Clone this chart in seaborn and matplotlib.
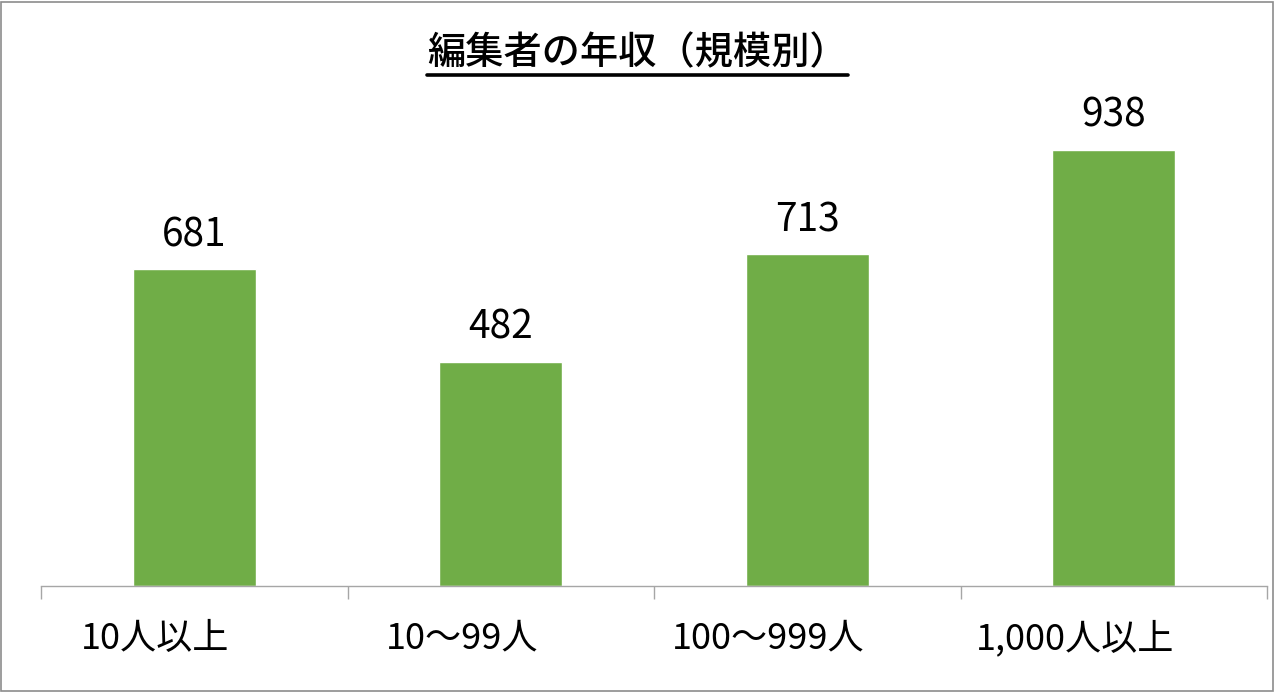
import matplotlib
matplotlib.use("Agg")
import matplotlib.pyplot as plt
import seaborn as sns
import pandas as pd
from matplotlib.lines import Line2D
from matplotlib.patches import Rectangle
from matplotlib.transforms import ScaledTranslation

# chart data
categories = ["10人以上", "10〜99人", "100〜999人", "1,000人以上"]
salaries = [681, 482, 713, 938]
title = "編集者の年収（規模別）"

sns.set_theme(style="white")
plt.rcParams["font.family"] = ["Noto Sans CJK JP", "DejaVu Sans"]

W, H = 1275, 693
fig = plt.figure(figsize=(W / 100, H / 100), dpi=100)
ax = fig.add_axes([41 / W, (H - 586) / H, (1267 - 41) / W, (586 - 121) / H])

df = pd.DataFrame({"size": categories, "salary": salaries})
sns.barplot(data=df, x="size", y="salary", color="#70AD47", saturation=1,
            width=0.4, ax=ax)

ax.set_xlim(-0.5, len(categories) - 0.5)
ax.set_ylim(0, 1000)
ax.set_xlabel("")
ax.set_ylabel("")
ax.set_yticks([])

# value labels above the bars
ax.bar_label(ax.containers[0], fmt="%d", padding=10, fontsize=28, color="black")

# tick marks on category boundaries, labels in between
ax.set_xticks([i - 0.5 for i in range(len(categories) + 1)])
ax.set_xticklabels([])
ax.set_xticks(range(len(categories)), minor=True)
ax.set_xticklabels(categories, minor=True, fontsize=26, color="black")
ax.tick_params(axis="x", which="major", length=9, width=1, color="#A6A6A6",
               direction="out", bottom=True)
ax.tick_params(axis="x", which="minor", length=0, pad=25)
shift = ScaledTranslation(-0.39, 0, fig.dpi_scale_trans)
for lab in ax.get_xticklabels(minor=True):
    lab.set_transform(lab.get_transform() + shift)

for side in ["left", "right", "top"]:
    ax.spines[side].set_visible(False)
ax.spines["bottom"].set_color("#A6A6A6")
ax.spines["bottom"].set_linewidth(1)

# title with underline
t = fig.text(0.5, (H - 53) / H, title, ha="center", va="center",
             fontsize=27.5, fontweight="medium", color="black")
fig.canvas.draw()
bb = t.get_window_extent()
uy = (H - 75) / H
fig.add_artist(Line2D([bb.x0 / W, bb.x1 / W], [uy, uy], color="black",
                      linewidth=2.6, transform=fig.transFigure))

# chart area border
fig.add_artist(Rectangle((1 / W, 2 / H), (1272 / W), (H - 4) / H,
                         fill=False, edgecolor="#8C8C8C", linewidth=1.2,
                         transform=fig.transFigure))

fig.savefig("out.png", dpi=100)
